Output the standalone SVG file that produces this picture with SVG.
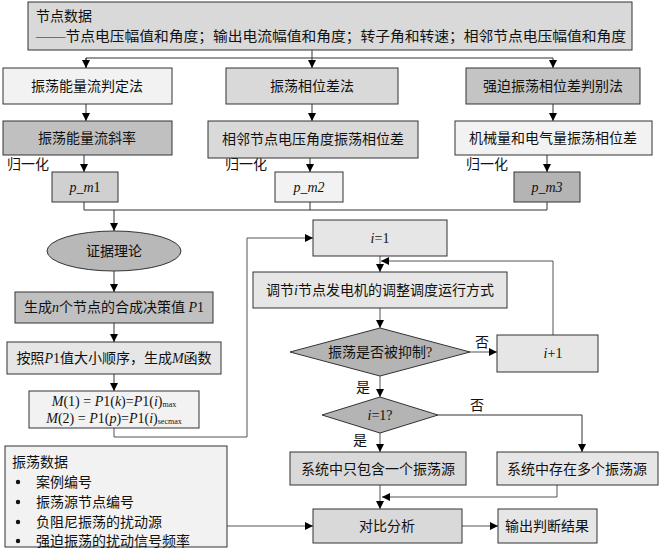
<svg xmlns="http://www.w3.org/2000/svg" width="660" height="549" viewBox="0 0 660 549">
<defs>
<style>
.b{stroke:#333;stroke-width:1}
.t{font-family:"Liberation Serif","Noto Sans CJK SC",serif;font-size:14px;fill:#111;text-anchor:middle;dominant-baseline:central}
.l{text-anchor:start}
.c{fill:none;stroke:#333;stroke-width:1}
.g{fill:none;stroke:#555;stroke-width:1}
.it{font-style:italic}
</style>
<marker id="a" markerWidth="10" markerHeight="10" refX="9" refY="5" orient="auto" markerUnits="userSpaceOnUse">
<path d="M1,1 L9,5 L1,9 Z" fill="#000"/>
</marker>
</defs>
<rect width="660" height="549" fill="#fff"/>
<g id="connectors">
<path class="c" d="M312,50 V68" marker-end="url(#a)"/>
<path class="c" d="M86,68 V58 H553 V68" marker-end="url(#a)"/>
<path class="c" d="M86,58 V68" marker-end="url(#a)"/>
<path class="c" d="M86,104 V121" marker-end="url(#a)"/>
<path class="c" d="M312,104 V121" marker-end="url(#a)"/>
<path class="c" d="M553,104 V121" marker-end="url(#a)"/>
<path class="c" d="M84,155 V172" marker-end="url(#a)"/>
<path class="c" d="M310,158 V172" marker-end="url(#a)"/>
<path class="c" d="M547,155 V172" marker-end="url(#a)"/>
<path class="c" d="M84,202 V210 H547 V202"/>
<path class="c" d="M310,202 V210"/>
<path class="c" d="M114,210 V231" marker-end="url(#a)"/>
<path class="c" d="M114,271 V292" marker-end="url(#a)"/>
<path class="c" d="M114,323 V342" marker-end="url(#a)"/>
<path class="c" d="M114,374 V391" marker-end="url(#a)"/>
<path class="g" d="M114,428 V437 H247 V238 H313" marker-end="url(#a)"/>
<path class="g" d="M380,256 V272" marker-end="url(#a)"/>
<path class="g" d="M553,335 V261 H381" marker-end="url(#a)"/>
<path class="g" d="M380,308 V328" marker-end="url(#a)"/>
<path class="g" d="M470,352 H497" marker-end="url(#a)"/>
<path class="g" d="M380,376 V397" marker-end="url(#a)"/>
<path class="c" d="M438,415 H582 V452" marker-end="url(#a)"/>
<path class="g" d="M380,433 V452" marker-end="url(#a)"/>
<path class="g" d="M380,485 V509" marker-end="url(#a)"/>
<path class="g" d="M557,485 V497 H382" marker-end="url(#a)"/>
<path class="g" d="M227,526 H313" marker-end="url(#a)"/>
<path class="g" d="M462,526 H498" marker-end="url(#a)"/>
</g>
<g id="labels">
<text class="t" x="28" y="164">归一化</text>
<text class="t" x="246" y="164">归一化</text>
<text class="t" x="487" y="164">归一化</text>
<text class="t" x="482" y="342">否</text>
<text class="t" x="363" y="387">是</text>
<text class="t" x="477" y="405">否</text>
<text class="t" x="360" y="440">是</text>
</g>
<g id="node-data">
<rect class="b" x="28" y="2" width="604" height="48" fill="#d9d9d9"/>
<text class="t l" x="36" y="16">节点数据</text>
<text class="t l" x="36" y="36" textLength="590" lengthAdjust="spacingAndGlyphs">——节点电压幅值和角度；输出电流幅值和角度；转子角和转速；相邻节点电压幅值和角度</text>
</g>
<g id="m1"><rect class="b" x="3" y="68" width="169" height="36" fill="#f2f2f2"/><text class="t" x="87" y="86">振荡能量流判定法</text></g>
<g id="m2"><rect class="b" x="226" y="68" width="172" height="36" fill="#d9d9d9"/><text class="t" x="312" y="86">振荡相位差法</text></g>
<g id="m3"><rect class="b" x="466" y="68" width="174" height="36" fill="#c4c4c4"/><text class="t" x="553" y="86">强迫振荡相位差判别法</text></g>
<g id="f1"><rect class="b" x="3" y="121" width="169" height="34" fill="#c0c0c0"/><text class="t" x="87" y="138">振荡能量流斜率</text></g>
<g id="f2"><rect class="b" x="208" y="121" width="210" height="37" fill="#d9d9d9"/><text class="t" x="313" y="139">相邻节点电压角度振荡相位差</text></g>
<g id="f3"><rect class="b" x="455" y="121" width="197" height="34" fill="#f2f2f2"/><text class="t" x="553" y="138">机械量和电气量振荡相位差</text></g>
<g id="pm1"><rect class="b" x="52" y="172" width="66" height="30" fill="#d0d0d0"/><text class="t" x="85" y="187"><tspan class="it">p_m</tspan>1</text></g>
<g id="pm2"><rect class="b" x="275" y="172" width="68" height="30" fill="#f2f2f2"/><text class="t it" x="309" y="187">p_m2</text></g>
<g id="pm3"><rect class="b" x="514" y="172" width="66" height="30" fill="#b4b4b4"/><text class="t it" x="547" y="187">p_m3</text></g>
<g id="evidence"><ellipse class="b" cx="114" cy="251" rx="67" ry="20" fill="#b8b8b8"/><text class="t" x="114" y="251">证据理论</text></g>
<g id="p1"><rect class="b" x="15" y="292" width="198" height="31" fill="#c0c0c0"/><text class="t" x="114" y="307">生成<tspan class="it">n</tspan>个节点的合成决策值 <tspan class="it">P</tspan>1</text></g>
<g id="mfunc"><rect class="b" x="7" y="342" width="214" height="32" fill="#e6e6e6"/><text class="t" x="114" y="358">按照<tspan class="it">P</tspan>1值大小顺序，生成<tspan class="it">M</tspan>函数</text></g>
<g id="mform"><rect class="b" x="29" y="391" width="170" height="37" fill="#f2f2f2"/>
<text class="t" x="114" y="401" font-size="12"><tspan class="it">M</tspan>(1) = <tspan class="it">P</tspan>1(<tspan class="it">k</tspan>)=<tspan class="it">P</tspan>1(<tspan class="it">i</tspan>)<tspan font-size="8" dy="3">max</tspan></text>
<text class="t" x="114" y="418" font-size="12"><tspan class="it">M</tspan>(2) = <tspan class="it">P</tspan>1(<tspan class="it">p</tspan>)=<tspan class="it">P</tspan>1(<tspan class="it">i</tspan>)<tspan font-size="8" dy="3">secmax</tspan></text>
</g>
<g id="i1"><rect class="b" x="313" y="220" width="134" height="36" fill="#e6e6e6"/><text class="t" x="380" y="238"><tspan class="it">i</tspan>=1</text></g>
<g id="adjust"><rect class="b" x="253" y="272" width="254" height="36" fill="#e6e6e6"/><text class="t" x="380" y="290">调节<tspan class="it">i</tspan>节点发电机的调整调度运行方式</text></g>
<g id="d1"><polygon class="b" points="290,352 380,328 470,352 380,376" fill="#b4b4b4"/><text class="t" x="380" y="352" font-size="12">振荡是否被抑制?</text></g>
<g id="iplus"><rect class="b" x="497" y="335" width="101" height="37" fill="#e6e6e6"/><text class="t" x="553" y="353"><tspan class="it">i</tspan>+1</text></g>
<g id="d2"><polygon class="b" points="322,415 380,397 438,415 380,433" fill="#b4b4b4"/><text class="t" x="380" y="415"><tspan class="it">i</tspan>=1?</text></g>
<g id="single"><rect class="b" x="290" y="452" width="176" height="33" fill="#d9d9d9"/><text class="t" x="378" y="469">系统中只包含一个振荡源</text></g>
<g id="multi"><rect class="b" x="497" y="452" width="161" height="33" fill="#e6e6e6"/><text class="t" x="577" y="469">系统中存在多个振荡源</text></g>
<g id="data"><rect class="b" x="5" y="446" width="222" height="101" fill="#f2f2f2"/>
<text class="t l" x="12" y="462">振荡数据</text>
<circle cx="18" cy="482" r="2.2" fill="#111"/><text class="t l" x="36" y="482">案例编号</text>
<circle cx="18" cy="502" r="2.2" fill="#111"/><text class="t l" x="36" y="502">振荡源节点编号</text>
<circle cx="18" cy="522" r="2.2" fill="#111"/><text class="t l" x="36" y="522">负阻尼振荡的扰动源</text>
<circle cx="18" cy="541" r="2.2" fill="#111"/><text class="t l" x="36" y="541">强迫振荡的扰动信号频率</text>
</g>
<g id="compare"><rect class="b" x="313" y="509" width="149" height="34" fill="#d9d9d9"/><text class="t" x="387" y="526">对比分析</text></g>
<g id="output"><rect class="b" x="498" y="509" width="99" height="34" fill="#e6e6e6"/><text class="t" x="547" y="526">输出判断结果</text></g>
</svg>
